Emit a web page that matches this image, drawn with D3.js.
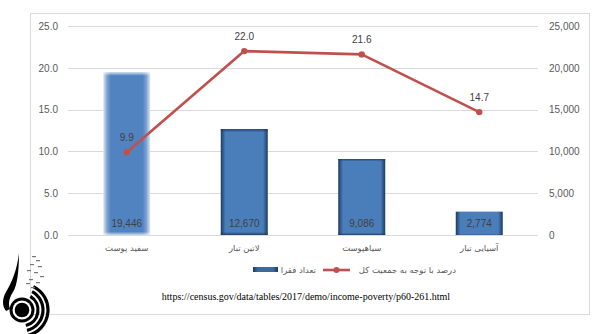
<!DOCTYPE html>
<html><head><meta charset="utf-8">
<script src="https://cdn.jsdelivr.net/npm/d3@7"></script>
<style>body{margin:0;background:#fff}svg{display:block}</style>
</head><body>
<script>
const categories = ["سفید پوست", "لاتین تبار", "سیاهپوست", "آسیایی تبار"];
const poorCount = [19446, 12670, 9086, 2774];
const poorPercent = [9.9, 22.0, 21.6, 14.7];
const leftTicks = [0, 5, 10, 15, 20, 25];
const rightTicks = [0, 5000, 10000, 15000, 20000, 25000];
const barSeriesName = "تعداد فقرا";
const lineSeriesName = "درصد با توجه به جمعیت کل";
const sourceText = "https://census.gov/data/tables/2017/demo/income-poverty/p60-261.html";

const W = 616, H = 334;
const svg = d3.select("body").append("svg").attr("width", W).attr("height", H);
const defs = svg.append("defs");

// frame
svg.append("rect").attr("x", 30.5).attr("y", 13.5).attr("width", 559).attr("height", 301)
  .attr("fill", "#fff").attr("stroke", "#d9d9d9").attr("stroke-width", 1);

const plot = {l: 68, r: 538, t: 26, b: 235};
const x = d3.scaleBand().domain(categories).range([plot.l, plot.r]).paddingInner(0.6).paddingOuter(0.3);
const yL = d3.scaleLinear().domain([0, 25]).range([plot.b, plot.t]);
const yR = d3.scaleLinear().domain([0, 25000]).range([plot.b, plot.t]);

// gridlines
svg.append("g").selectAll("line").data(leftTicks).join("line")
  .attr("x1", plot.l).attr("x2", plot.r)
  .attr("y1", d => Math.round(yL(d)) + 0.5).attr("y2", d => Math.round(yL(d)) + 0.5)
  .attr("stroke", "#d9d9d9").attr("stroke-width", 1);

// left axis
const axL = svg.append("g").attr("transform", `translate(${plot.l},0)`)
  .call(d3.axisLeft(yL).tickValues(leftTicks).tickFormat(d3.format(".1f")).tickSize(0).tickPadding(10));
axL.select(".domain").remove();
axL.selectAll("text").attr("fill", "#595959").style("font-family", "Liberation Sans, Arial, sans-serif").style("font-size", "10px");

// right axis
const axR = svg.append("g").attr("transform", `translate(${plot.r},0)`)
  .call(d3.axisRight(yR).tickValues(rightTicks).tickFormat(d3.format(",")).tickSize(0).tickPadding(11));
axR.select(".domain").remove();
axR.selectAll("text").attr("fill", "#595959").style("font-family", "Liberation Sans, Arial, sans-serif").style("font-size", "10px");

// gradients
function hGrad(id, stops) {
  const g = defs.append("linearGradient").attr("id", id).attr("x1", "0").attr("x2", "1").attr("y1", "0").attr("y2", "0");
  stops.forEach(s => g.append("stop").attr("offset", s[0]).attr("stop-color", s[1]).attr("stop-opacity", s[2] == null ? 1 : s[2]));
}
function vGrad(id, stops) {
  const g = defs.append("linearGradient").attr("id", id).attr("x1", "0").attr("x2", "0").attr("y1", "0").attr("y2", "1");
  stops.forEach(s => g.append("stop").attr("offset", s[0]).attr("stop-color", s[1]).attr("stop-opacity", s[2] == null ? 1 : s[2]));
}
hGrad("darkH", [["0", "#1e3a62"], ["0.1", "#4a7ebb"], ["0.9", "#4a7ebb"], ["1", "#1e3a62"]]);
hGrad("softH", [["0", "#dfe8f4"], ["0.08", "#7fa2d0"], ["0.16", "#5283c1"], ["0.84", "#5283c1"], ["0.92", "#7fa2d0"], ["1", "#dfe8f4"]]);
vGrad("darkV", [["0", "#1e3a62", 0.9], ["0.03", "#1e3a62", 0], ["0.97", "#1e3a62", 0], ["1", "#1e3a62", 0.9]]);
vGrad("softV", [["0", "#ffffff", 0.7], ["0.02", "#ffffff", 0], ["0.98", "#ffffff", 0], ["1", "#ffffff", 0.7]]);
hGrad("legendG", [["0", "#1e3a62"], ["0.2", "#3b6aa3"], ["0.8", "#3b6aa3"], ["1", "#1e3a62"]]);

// bars
const bars = svg.append("g");
poorCount.forEach((v, i) => {
  const bx = x(categories[i]), bw = x.bandwidth(), by = yR(v), bh = yR(0) - yR(v);
  bars.append("rect").attr("x", bx).attr("y", by).attr("width", bw).attr("height", bh)
    .attr("fill", i === 0 ? "url(#softH)" : "url(#darkH)");
  bars.append("rect").attr("x", bx).attr("y", by).attr("width", bw).attr("height", bh)
    .attr("fill", i === 0 ? "url(#softV)" : "url(#darkV)");
});

// bar labels
svg.append("g").selectAll("text").data(poorCount).join("text")
  .attr("x", (d, i) => x(categories[i]) + x.bandwidth() / 2)
  .attr("y", yR(0) - 8)
  .attr("text-anchor", "middle")
  .attr("fill", "#404040")
  .style("font-family", "Liberation Sans, Arial, sans-serif").style("font-size", "10px")
  .text(d => d3.format(",")(d));

// line
const cx = i => x(categories[i]) + x.bandwidth() / 2;
const line = d3.line().x((d, i) => cx(i)).y(d => yL(d));
svg.append("path").datum(poorPercent).attr("d", line)
  .attr("fill", "none").attr("stroke", "#c0504d").attr("stroke-width", 2.6).attr("stroke-linejoin", "round");
svg.append("g").selectAll("circle").data(poorPercent).join("circle")
  .attr("cx", (d, i) => cx(i)).attr("cy", d => yL(d)).attr("r", 3.2).attr("fill", "#c0504d");
svg.append("g").selectAll("text").data(poorPercent).join("text")
  .attr("x", (d, i) => cx(i)).attr("y", d => yL(d) - 11)
  .attr("text-anchor", "middle").attr("fill", "#404040")
  .style("font-family", "Liberation Sans, Arial, sans-serif").style("font-size", "10px")
  .text(d => d3.format(".1f")(d));

// category labels
svg.append("g").selectAll("text").data(categories).join("text")
  .attr("x", (d, i) => cx(i)).attr("y", 251)
  .attr("text-anchor", "middle").attr("fill", "#595959")
  .style("font-family", "DejaVu Sans, sans-serif").style("font-size", "8.5px")
  .text(d => d);

// legend
const lg = svg.append("g");
lg.append("rect").attr("x", 253).attr("y", 267).attr("width", 25).attr("height", 5).attr("fill", "url(#legendG)");
lg.append("text").attr("x", 316).attr("y", 272.5).attr("text-anchor", "end").attr("fill", "#595959")
  .style("font-family", "DejaVu Sans, sans-serif").style("font-size", "8.5px").text(barSeriesName);
lg.append("line").attr("x1", 323).attr("x2", 350).attr("y1", 270).attr("y2", 270)
  .attr("stroke", "#c0504d").attr("stroke-width", 2.6);
lg.append("circle").attr("cx", 336.5).attr("cy", 270).attr("r", 3).attr("fill", "#c0504d");
lg.append("text").attr("x", 456).attr("y", 272.5).attr("text-anchor", "end").attr("fill", "#595959")
  .style("font-family", "DejaVu Sans, sans-serif").style("font-size", "8.5px").text(lineSeriesName);

// source
svg.append("text").attr("x", 306).attr("y", 300).attr("text-anchor", "middle").attr("fill", "#000")
  .style("font-family", "Liberation Serif, Times New Roman, serif").style("font-size", "10px")
  .text(sourceText);

// logo (decorative)
const logo = svg.append("g");
logo.append("rect").attr("x", 0).attr("y", 252).attr("width", 29).attr("height", 82).attr("fill", "#fff");
logo.append("path").attr("fill", "#000")
  .attr("d", "M19,253 C17,270 12,282 6,292 C2,299 2,306 6,311 L10,309 C8,304 9,298 13,292 C17,286 19,272 19,253 Z");
logo.append("circle").attr("cx", 22).attr("cy", 310).attr("r", 12.5).attr("fill", "#000");
logo.append("circle").attr("cx", 22).attr("cy", 310).attr("r", 9.5).attr("fill", "#fff");
logo.append("circle").attr("cx", 22).attr("cy", 310).attr("r", 7.3).attr("fill", "#000");
const arc = d3.arc();
[16, 21, 26].forEach((r, k) => {
  logo.append("path").attr("transform", "translate(22,310)")
    .attr("d", arc({innerRadius: r - 1.6, outerRadius: r + 1.6, startAngle: 0.55 - k * 0.05, endAngle: 2.9}))
    .attr("fill", "#000");
});
const scrib = [[32,256],[36,260],[30,264],[38,266],[27,270],[34,272],[40,276],[29,279],[36,282],[31,287],[26,283]];
logo.append("g").selectAll("rect").data(scrib).join("rect")
  .attr("x", d => d[0]).attr("y", d => d[1]).attr("width", 4).attr("height", 1.2).attr("fill", "#777");
</script>
</body></html>
